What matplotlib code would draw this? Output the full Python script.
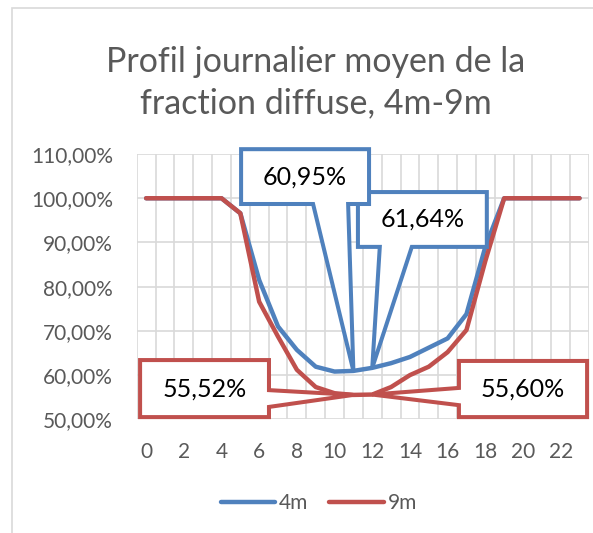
import matplotlib

matplotlib.use("Agg")
import matplotlib.pyplot as plt
from matplotlib.patches import Polygon, Rectangle
from matplotlib.ticker import FuncFormatter

# hourly mean diffuse fraction (%)
hours = list(range(24))
frac_4m = [100, 100, 100, 100, 100, 96.6, 81.5, 71.0, 65.7, 61.9, 60.8, 60.95,
           61.64, 62.7, 64.1, 66.2, 68.3, 73.8, 89.0, 100, 100, 100, 100, 100]
frac_9m = [100, 100, 100, 100, 100, 96.6, 76.6, 68.7, 61.2, 57.3, 55.9, 55.52,
           55.60, 57.3, 60.0, 61.9, 65.2, 70.2, 85.8, 100, 100, 100, 100, 100]

# callouts: (series, hour, colour, box x0, x1, y0, y1, wedge side, base a, base b)
BLUE = "#4F81BD"
RED = "#C0504D"
GREY = "#595959"
callouts = [
    (frac_4m, 12, BLUE, 11.24, 18.08, 89.0, 101.4, "bottom", 12.4, 14.1),
    (frac_4m, 11, BLUE, 5.04, 11.83, 98.7, 111.1, "bottom", 8.86, 10.72),
    (frac_9m, 11, RED, -0.32, 6.52, 50.5, 63.4, "right", 52.8, 56.6),
    (frac_9m, 12, RED, 16.6, 23.4, 50.5, 63.2, "left", 53.2, 57.1),
]

plt.rcParams["font.family"] = ["Lato", "DejaVu Sans"]

fig = plt.figure(figsize=(5.93, 5.33), dpi=100)
ax = fig.add_axes([0.2305, 0.2133, 0.7627, 0.4977])

# outer chart border (cropped on right/bottom)
fig.patches.append(Rectangle((12 / 593, -0.1), 1.2, 1 - 8 / 533 + 0.1,
                             transform=fig.transFigure, fill=False,
                             edgecolor="#D9D9D9", lw=1.2))

ax.plot(hours, frac_4m, color=BLUE, lw=3.2, label="4m", zorder=3,
        solid_capstyle="round", solid_joinstyle="round")
ax.plot(hours, frac_9m, color=RED, lw=3.2, label="9m", zorder=3,
        solid_capstyle="round", solid_joinstyle="round")

ax.set_xlim(-0.5, 23.5)
ax.set_ylim(50, 110)
ax.set_yticks(range(50, 111, 10))
ax.yaxis.set_major_formatter(FuncFormatter(lambda v, p: f"{v:.2f}%".replace(".", ",")))
ax.set_xticks(hours[::2])
ax.set_xticks([h - 0.5 for h in hours] + [23.5], minor=True)
ax.grid(False)
ax.grid(True, axis="y", which="major", color="#D9D9D9", lw=1.2)
ax.grid(True, axis="x", which="minor", color="#D9D9D9", lw=1.2)
ax.tick_params(which="both", length=0, labelsize=15, colors=GREY)
ax.tick_params(axis="y", pad=17)
ax.tick_params(axis="x", pad=16)
for s in ax.spines.values():
    s.set_visible(False)

for series, hr, col, x0, x1, y0, y1, side, a, b in callouts:
    tip = (hours[hr], series[hr])
    if side == "bottom":
        pts = [(x0, y1), (x1, y1), (x1, y0), (b, y0), tip, (a, y0), (x0, y0)]
    elif side == "right":
        pts = [(x0, y1), (x1, y1), (x1, b), tip, (x1, a), (x1, y0), (x0, y0)]
    else:
        pts = [(x0, y1), (x1, y1), (x1, y0), (x0, y0), (x0, a), tip, (x0, b)]
    ax.add_patch(Polygon(pts, closed=True, facecolor="white", edgecolor=col,
                         lw=2.9, joinstyle="miter", clip_on=False, zorder=4))
    ax.text((x0 + x1) / 2, (y0 + y1) / 2, f"{series[hr]:.2f}%".replace(".", ","),
            ha="center", va="center", fontsize=18, color="black", zorder=5)

fig.text(0.532, 0.845, "Profil journalier moyen de la\nfraction diffuse, 4m-9m",
         ha="center", va="center", fontsize=24.5, color=GREY, linespacing=1.32)

ax.legend(loc="center", bbox_to_anchor=(319 / 593, 1 - 503 / 533),
          bbox_transform=fig.transFigure, ncol=2, frameon=False, fontsize=15,
          handlelength=2.6, handletextpad=0.2, columnspacing=1.0,
          labelcolor=GREY)

fig.savefig("out.png", dpi=100)
